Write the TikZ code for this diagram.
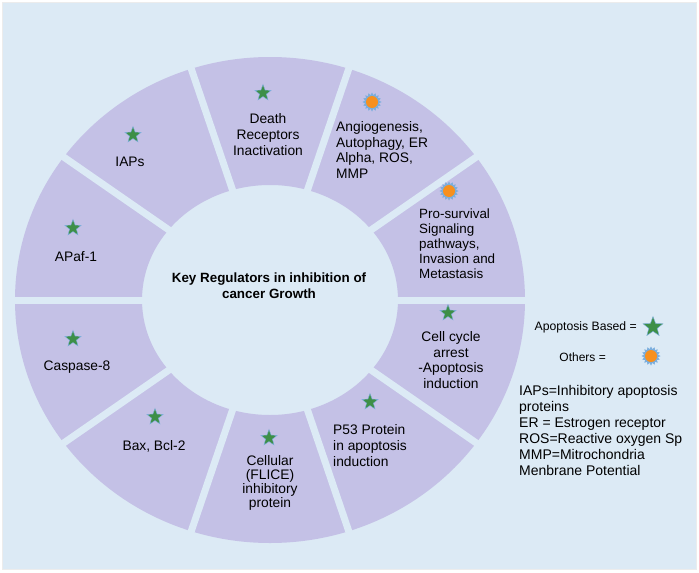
\documentclass[tikz,border=0pt]{standalone}
\usepackage{fontspec}
\setmainfont{Liberation Sans}
\usetikzlibrary{shapes.geometric}

\definecolor{bgblue}{HTML}{DCEAF5}
\definecolor{ringcol}{HTML}{C4C1E6}
\definecolor{stargreen}{HTML}{3E8F47}
\definecolor{sunorange}{HTML}{F7901E}
\definecolor{halo}{HTML}{7BAEDD}

\tikzset{
    seg/.style={font=\fontsize{13.8}{16}\selectfont, align=center, inner sep=0pt},
    segleft/.style={seg, align=left, anchor=west},
    apostar/.style={star, star points=5, star point ratio=2.4, minimum size=17pt,
        inner sep=0pt, fill=stargreen, draw=halo, line width=0.4pt},
    sunhalo/.style={star, star points=16, star point ratio=1.35, minimum size=19pt,
        inner sep=0pt, fill=halo},
    sundot/.style={circle, minimum size=12pt, inner sep=0pt, fill=sunorange}
}

\begin{document}
\begin{tikzpicture}[x=1pt, y=-1pt]
    \useasboundingbox (0,0) rectangle (699,573);
    % background
    \fill[white] (0,0) rectangle (699,573);
    \draw[fill=bgblue, draw=gray!15] (2,2) rectangle (696,569);

    % ring of regulators
    \begin{scope}[shift={(270,300)}]
        \fill[ringcol, even odd rule] (0,0) ellipse [x radius=255, y radius=243]
            (0,0) ellipse [x radius=128, y radius=115];
        \foreach \a in {0,36,...,324}
            \draw[bgblue, line width=7pt] (0,0) -- (\a:260 and 248);
    \end{scope}

    % centre title
    \node[font=\bfseries\fontsize{13.4}{16}\selectfont, align=center] (title) at (269,286)
        {Key Regulators in inhibition of\\cancer Growth};

    % segment labels
    \node[seg] (death) at (268,135) {Death\\Receptors\\Inactivation};
    \node[segleft, font=\fontsize{13.8}{15.4}\selectfont] (angio) at (336,150)
        {Angiogenesis,\\Autophagy, ER\\Alpha, ROS,\\MMP};
    \node[segleft, font=\fontsize{13.4}{15}\selectfont] (prosurv) at (419,244)
        {Pro-survival\\Signaling\\pathways,\\Invasion and\\Metastasis};
    \node[seg, font=\fontsize{13.8}{15.7}\selectfont] (cellcyc) at (451,360)
        {Cell cycle\\arrest\\-Apoptosis\\induction};
    \node[segleft] (p53) at (333,446) {P53 Protein\\in apoptosis\\induction};
    \node[seg, font=\fontsize{13.8}{14}\selectfont] (cellular) at (270,483)
        {Cellular\\(FLICE)\\inhibitory\\protein};
    \node[seg] (bax) at (154,446) {Bax, Bcl-2};
    \node[seg] (casp) at (77,367) {Caspase-8};
    \node[seg] (apaf) at (76,257) {APaf-1};
    \node[seg] (iaps) at (130,162) {IAPs};

    % markers
    \foreach \n/\x/\y in {death/263/93, iaps/133/135, apaf/73/228, casp/73/339,
                          bax/155/417, cellular/269/438, p53/370/402, cellcyc/448/313}
        \node[apostar] (star-\n) at (\x,\y) {};
    \foreach \n/\x/\y in {angio/372/102, prosurv/449/191}
    {
        \node[sunhalo] (halo-\n) at (\x,\y) {};
        \node[sundot] (sun-\n) at (\x,\y) {};
    }

    % legend
    \node[font=\fontsize{12.2}{14}\selectfont, anchor=east, inner sep=0pt] (lapo) at (637,327)
        {Apoptosis Based =};
    \node[apostar, minimum size=21pt] (star-leg) at (653,327) {};
    \node[font=\fontsize{12}{14}\selectfont, anchor=east, inner sep=0pt] (loth) at (606,357)
        {Others =};
    \node[sunhalo] (halo-leg) at (651,356) {};
    \node[sundot] (sun-leg) at (651,356) {};
    \node[font=\fontsize{14}{16}\selectfont, align=left, anchor=west, inner sep=0pt] (abbr)
        at (519,430) {IAPs=Inhibitory apoptosis\\proteins\\ER = Estrogen receptor\\
        ROS=Reactive oxygen Sp\\MMP=Mitrochondria\\Menbrane Potential};
\end{tikzpicture}
\end{document}
